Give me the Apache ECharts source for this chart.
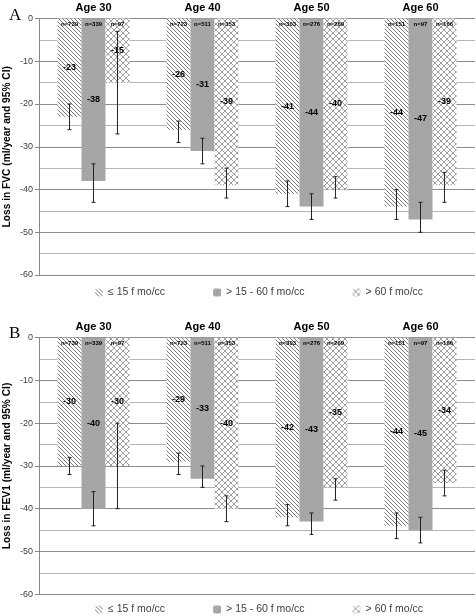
<!DOCTYPE html>
<html><head><meta charset="utf-8">
<script src="https://cdn.jsdelivr.net/npm/echarts@6/dist/echarts.min.js"></script>
<style>html,body{margin:0;padding:0;background:#fff}#c{width:476px;height:616px}</style>
</head><body><div id="c"></div>
<script>
// ---- data ----
const ages = ['Age 30', 'Age 40', 'Age 50', 'Age 60'];
const groups = ['≤ 15 f mo/cc', '> 15 - 60 f mo/cc', '> 60 f mo/cc'];
const nLow = [739, 723, 303, 151];
const nMid = [339, 511, 276, 97];
const nHigh = [97, 353, 269, 166];
// Panel A: FVC
const fvcLowMean = [-23, -26, -41, -44];
const fvcLowUpper = [-20, -24, -38, -40];
const fvcLowLower = [-26, -29, -44, -47];
const fvcMidMean = [-38, -31, -44, -47];
const fvcMidUpper = [-34, -28, -41, -43];
const fvcMidLower = [-43, -34, -47, -50];
const fvcHighMean = [-15, -39, -40, -39];
const fvcHighUpper = [-3, -35, -37, -36];
const fvcHighLower = [-27, -42, -42, -43];
// Panel B: FEV1
const fevLowMean = [-30, -29, -42, -44];
const fevLowUpper = [-28, -27, -39, -41];
const fevLowLower = [-32, -32, -44, -47];
const fevMidMean = [-40, -33, -43, -45];
const fevMidUpper = [-36, -30, -41, -42];
const fevMidLower = [-44, -35, -46, -48];
const fevHighMean = [-30, -40, -35, -34];
const fevHighUpper = [-20, -37, -33, -31];
const fevHighLower = [-40, -43, -38, -37];
const yTicks = [0, -10, -20, -30, -40, -50, -60];

// ---- patterns ----
function hatchPattern() {
  const c = document.createElement('canvas'); c.width = 4; c.height = 4;
  const x = c.getContext('2d');
  x.fillStyle = '#fff'; x.fillRect(0, 0, 4, 4);
  x.strokeStyle = '#7a7a7a'; x.lineWidth = 1;
  x.beginPath(); x.moveTo(-1, -1); x.lineTo(5, 5); x.moveTo(-1, 3); x.lineTo(1, 5); x.moveTo(3, -1); x.lineTo(5, 1); x.stroke();
  return { image: c, repeat: 'repeat' };
}
function crossPattern() {
  const c = document.createElement('canvas'); c.width = 6; c.height = 6;
  const x = c.getContext('2d');
  x.fillStyle = '#fff'; x.fillRect(0, 0, 6, 6);
  x.strokeStyle = '#a0a0a0'; x.lineWidth = 1;
  x.beginPath(); x.moveTo(0, 0); x.lineTo(6, 6); x.moveTo(6, 0); x.lineTo(0, 6); x.stroke();
  return { image: c, repeat: 'repeat' };
}
const colors = [hatchPattern(), '#a6a6a6', crossPattern()];
const FONT = 'Liberation Sans';
const BW = 0.22;

const panels = [
  { name: 'Loss in FVC (ml/year and 95% CI)', top: 18.5, mean: [fvcLowMean, fvcMidMean, fvcHighMean], up: [fvcLowUpper, fvcMidUpper, fvcHighUpper], lo: [fvcLowLower, fvcMidLower, fvcHighLower] },
  { name: 'Loss in FEV1 (ml/year and 95% CI)', top: 337.7, mean: [fevLowMean, fevMidMean, fevHighMean], up: [fevLowUpper, fevMidUpper, fevHighUpper], lo: [fevLowLower, fevMidLower, fevHighLower] }
];
const ns = [nLow, nMid, nHigh];

const grid = [], xAxis = [], yAxis = [], series = [];
panels.forEach((p, pi) => {
  grid.push({ left: 39, width: 436, top: p.top, height: 256.5, containLabel: false, outerBoundsMode: 'none' });
  xAxis.push({ type: 'category', gridIndex: pi, data: ages, position: 'top',
    axisLine: { show: false }, axisTick: { show: false },
    axisLabel: { margin: 5, fontFamily: FONT, fontWeight: 'bold', fontSize: 11, color: '#000' } });
  yAxis.push({ type: 'value', gridIndex: pi, min: yTicks[yTicks.length - 1], max: yTicks[0], interval: 10,
    name: p.name, nameLocation: 'middle', nameGap: 27, nameMoveOverlap: false,
    nameTextStyle: { fontFamily: FONT, fontWeight: 'bold', fontSize: 10.2, color: '#000' },
    axisLine: { show: true, lineStyle: { color: '#888' } },
    axisTick: { show: true, length: 4, lineStyle: { color: '#888' } },
    axisLabel: { margin: 6, fontFamily: FONT, fontSize: 9, color: '#404040' },
    splitLine: { show: true, lineStyle: { color: '#8c8c8c' } },
    minorTick: { show: false, splitNumber: 2 },
    minorSplitLine: { show: true, lineStyle: { color: '#b5b5b5' } } });
  groups.forEach((g, gi) => {
    series.push({ type: 'bar', name: g, xAxisIndex: pi, yAxisIndex: pi, data: p.mean[gi],
      barWidth: (BW * 100) + '%', barGap: '0%', itemStyle: { color: colors[gi] },
      label: { show: true, position: 'inside', fontFamily: FONT, fontWeight: 'bold', fontSize: 9, color: '#000' },
      z: 2 });
  });
  groups.forEach((g, gi) => {
    const data = ages.map((a, ci) => [ci, p.up[gi][ci], p.lo[gi][ci], ns[gi][ci]]);
    series.push({ type: 'custom', xAxisIndex: pi, yAxisIndex: pi, z: 5, silent: true,
      data: data, encode: { x: 0, y: [1, 2] },
      renderItem: function (params, api) {
        const ci = api.value(0);
        const band = api.size([1, 0])[0];
        const off = band * BW * (gi - 1);
        const pu = api.coord([ci, api.value(1)]);
        const pl = api.coord([ci, api.value(2)]);
        const p0 = api.coord([ci, 0]);
        const x = pu[0] + off;
        const st = { stroke: '#222', lineWidth: 1 };
        return { type: 'group', children: [
          { type: 'line', shape: { x1: x, y1: pu[1], x2: x, y2: pl[1] }, style: st },
          { type: 'line', shape: { x1: x - 2, y1: pu[1], x2: x + 2, y2: pu[1] }, style: st },
          { type: 'line', shape: { x1: x - 2, y1: pl[1], x2: x + 2, y2: pl[1] }, style: st },
          { type: 'text', style: { x: x, y: p0[1] + 6, text: 'n=' + api.value(3), align: 'center', verticalAlign: 'middle',
            font: 'bold 6px "' + FONT + '"', fill: '#000' } }
        ] };
      } });
  });
});

const chart = echarts.init(document.getElementById('c'), null, { renderer: 'canvas' });
chart.setOption({
  animation: false,
  backgroundColor: '#fff',
  title: [
    { text: 'A', left: 4, top: 2, textStyle: { fontFamily: 'Liberation Serif', fontWeight: 'normal', fontSize: 17, color: '#000' } },
    { text: 'B', left: 4, top: 320, textStyle: { fontFamily: 'Liberation Serif', fontWeight: 'normal', fontSize: 17, color: '#000' } }
  ],
  legend: [
    { data: groups, left: 90, top: 282, itemWidth: 8, itemHeight: 8, itemGap: 48, selectedMode: false,
      textStyle: { fontFamily: FONT, fontSize: 10.5, color: '#404040' } },
    { data: groups, left: 90, top: 599, itemWidth: 8, itemHeight: 8, itemGap: 48, selectedMode: false,
      textStyle: { fontFamily: FONT, fontSize: 10.5, color: '#404040' } }
  ],
  grid, xAxis, yAxis, series
});
</script></body></html>
